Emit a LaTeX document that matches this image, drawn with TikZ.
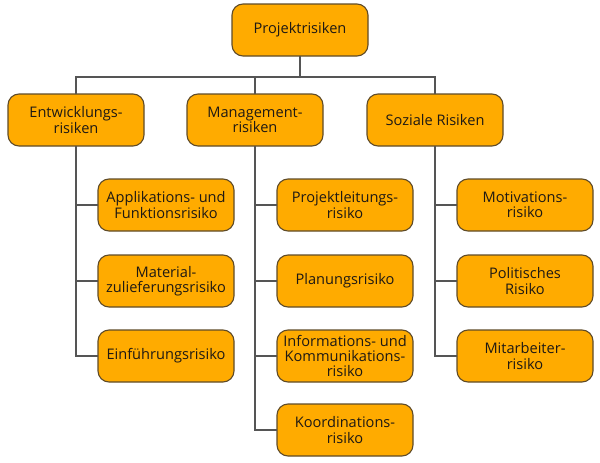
\documentclass[tikz,border=0pt]{standalone}
\usepackage{fontspec}
\setmainfont{Open Sans}
\usetikzlibrary{positioning}
\definecolor{riskorange}{RGB}{255,171,0}
\definecolor{riskborder}{RGB}{95,75,40}
\definecolor{riskline}{RGB}{85,85,85}
\definecolor{risktext}{RGB}{30,25,20}

\begin{document}
\begin{tikzpicture}[
box/.style={rectangle, rounded corners=11pt, draw=riskborder, line width=1.1pt, fill=riskorange,
  text=risktext, minimum width=136pt, minimum height=52pt, inner sep=1pt, outer sep=0pt,
  align=center, font=\fontsize{14.6}{15.2}\selectfont},
link/.style={draw=riskline, line width=1.2pt},
]
\useasboundingbox (0,0) rectangle (600pt,-463pt);

% \node[box](name)[below/left/right=... of name]{text}
\node[box](root) at (300pt,-30pt){Projektrisiken};
\node[box](mgmt)[below=38pt of root, xshift=-45pt]{Management-\\risiken};
\node[box](entw)[left=43pt of mgmt]{Entwicklungs-\\risiken};
\node[box](soz)[right=44pt of mgmt]{Soziale Risiken};

% Entwicklungsrisiken
\node[box](appl)[below=33pt of entw, xshift=90pt]{Applikations- und\\Funktionsrisiko};
\node[box](mat)[below=24pt of appl]{Material-\\zulieferungsrisiko};
\node[box](einf)[below=23pt of mat]{Einführungsrisiko};

% Managementrisiken
\node[box](proj)[below=33pt of mgmt, xshift=90pt]{Projektleitungs-\\risiko};
\node[box](plan)[below=24pt of proj]{Planungsrisiko};
\node[box](info)[below=23pt of plan]{Informations- und\\Kommunikations-\\risiko};
\node[box](koord)[below=22pt of info]{Koordinations-\\risiko};

% Soziale Risiken
\node[box](motiv)[below=33pt of soz, xshift=90pt]{Motivations-\\risiko};
\node[box](polit)[below=24pt of motiv]{Politisches\\Risiko};
\node[box](mitarb)[below=23pt of polit]{Mitarbeiter-\\risiko};

% \draw (name.direction) -- (name.direction)
\draw[link] (root.south) -- ++(0,-21pt);
\draw[link] (entw.north) -- ++(0,17pt) -| (soz.north);
\draw[link] (mgmt.north) -- ++(0,17pt);

\draw[link] (entw.south) |- (appl.west);
\draw[link] (entw.south) |- (mat.west);
\draw[link] (entw.south) |- (einf.west);

\draw[link] (mgmt.south) |- (proj.west);
\draw[link] (mgmt.south) |- (plan.west);
\draw[link] (mgmt.south) |- (info.west);
\draw[link] (mgmt.south) |- (koord.west);

\draw[link] (soz.south) |- (motiv.west);
\draw[link] (soz.south) |- (polit.west);
\draw[link] (soz.south) |- (mitarb.west);

\end{tikzpicture}
\end{document}
